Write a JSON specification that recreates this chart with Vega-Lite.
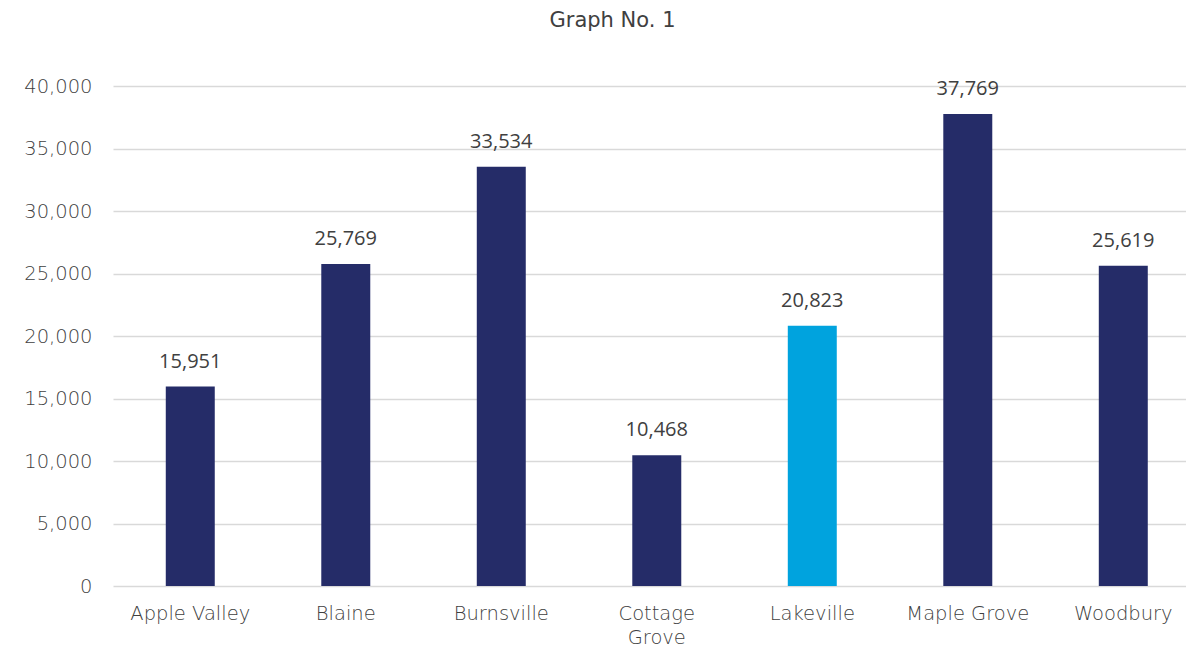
{
  "$schema": "https://vega.github.io/schema/vega-lite/v6.json",
  "autosize": {"type": "none"},
  "padding": {"left": 113, "top": 86, "right": 0, "bottom": 64},
  "width": 1073,
  "height": 500,
  "background": "white",
  "title": {
    "text": "Graph No. 1",
    "font": "DejaVu Sans",
    "fontSize": 21,
    "fontWeight": "normal",
    "color": "#404040",
    "anchor": "middle",
    "frame": "group",
    "dx": -37,
    "baseline": "alphabetic",
    "offset": 28
  },
  "data": {
    "values": [
      {"city": "Apple Valley", "value": 15951, "group": "other"},
      {"city": "Blaine", "value": 25769, "group": "other"},
      {"city": "Burnsville", "value": 33534, "group": "other"},
      {"city": "Cottage Grove", "value": 10468, "group": "other"},
      {"city": "Lakeville", "value": 20823, "group": "highlight"},
      {"city": "Maple Grove", "value": 37769, "group": "other"},
      {"city": "Woodbury", "value": 25619, "group": "other"}
    ]
  },
  "encoding": {
    "x": {
      "field": "city",
      "type": "nominal",
      "sort": null,
      "scale": {"paddingInner": 0.685, "paddingOuter": 0.2926, "align": 0.58},
      "axis": {
        "title": null,
        "domain": false,
        "ticks": false,
        "labelAngle": 0,
        "labelFont": "DejaVu Sans",
        "labelFontSize": 19.5,
        "labelFontWeight": 300,
        "labelColor": "#404040",
        "labelPadding": 18,
        "labelBaseline": "top",
        "labelLineHeight": 24,
        "labelExpr": "datum.value == 'Cottage Grove' ? ['Cottage', 'Grove'] : datum.value"
      }
    },
    "y": {
      "field": "value",
      "type": "quantitative",
      "scale": {"domain": [0, 40000], "nice": false},
      "axis": {
        "title": null,
        "domain": false,
        "ticks": false,
        "values": [0, 5000, 10000, 15000, 20000, 25000, 30000, 35000, 40000],
        "format": ",.0f",
        "labelFont": "DejaVu Sans",
        "labelFontSize": 19.5,
        "labelFontWeight": 300,
        "labelColor": "#404040",
        "labelPadding": 21,
        "gridColor": "#D9D9D9",
        "gridWidth": 1.5
      }
    }
  },
  "layer": [
    {
      "mark": {"type": "bar"},
      "encoding": {
        "color": {
          "field": "group",
          "type": "nominal",
          "scale": {"domain": ["other", "highlight"], "range": ["#252C68", "#00A3DE"]},
          "legend": null
        }
      }
    },
    {
      "mark": {
        "type": "text",
        "font": "Open Sans",
        "fontSize": 20,
        "color": "#404040",
        "baseline": "alphabetic",
        "dy": -19
      },
      "encoding": {
        "text": {"field": "value", "type": "quantitative", "format": ","}
      }
    }
  ],
  "config": {"view": {"stroke": null}}
}
